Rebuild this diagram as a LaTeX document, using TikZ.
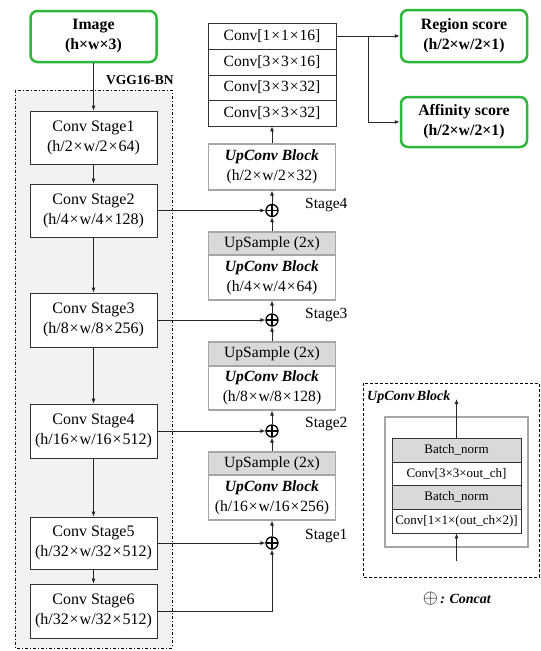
\documentclass[tikz,border=0pt]{standalone}
\usepackage{fontspec}
\usepackage{graphicx}
\setmainfont{Liberation Serif}
\usetikzlibrary{arrows.meta}
\newcommand{\fsz}[2]{\fontsize{#1}{#2}\selectfont}
\newcommand{\tx}{\hspace{0.06em}×\hspace{0.06em}}
\definecolor{grn}{HTML}{2DB83D}
\definecolor{bgg}{HTML}{F2F2F2}
\definecolor{hdr}{HTML}{D9D9D9}
\definecolor{bdr}{HTML}{A6A6A6}
\tikzset{
  gbox/.style={draw=grn, line width=2.5pt, rounded corners=7pt, fill=white, minimum width=126pt, align=center, inner sep=0pt, font=\bfseries\fsz{15.8}{20}},
  convbox/.style={draw=black!80, line width=0.8pt, fill=white, minimum width=127pt, align=center, inner sep=0pt, font=\fsz{16}{20}},
  stackrow/.style={draw=black!80, line width=0.8pt, fill=white, minimum width=128pt, inner sep=0pt, font=\fsz{15.6}{18}},
  upbody/.style={draw=bdr, line width=1.2pt, fill=white, minimum width=127pt, align=center, inner sep=0pt, font=\fsz{15.6}{20}},
  uphead/.style={draw=bdr, line width=1.2pt, fill=hdr, minimum width=127pt, inner sep=0pt, font=\fsz{15.6}{18}},
  opl/.style={circle, draw=black, line width=1.3pt, minimum size=12pt, inner sep=0pt, fill=white,
    path picture={\draw[line width=1.3pt] (path picture bounding box.north) -- (path picture bounding box.south)
      (path picture bounding box.west) -- (path picture bounding box.east);}},
  stlabel/.style={anchor=west, inner sep=0pt, font=\fsz{15.5}{18}},
  inrow/.style={draw=black!80, line width=0.8pt, fill=white, minimum width=129pt, inner sep=0pt, font=\fsz{13}{15}},
  arr/.style={->, line width=0.8pt, draw=black!85},
}
\begin{document}
\begin{tikzpicture}[x=1pt, y=-1pt, >={Latex[length=5pt,width=4pt]}]
\useasboundingbox (0,0) rectangle (541,651);
\fill[white] (0,0) rectangle (541,651);
% VGG background
\draw[fill=bgg, line width=0.8pt, dash pattern=on 3pt off 2pt on 1pt off 2pt] (15,90) rectangle (172,648);
\node[anchor=west, inner sep=0pt, font=\bfseries\fsz{13.5}{15}] (vgg) at (106,80) {VGG16-BN};

\node[gbox, minimum height=51pt] (img) at (93.5,36.5) {Image\\(h×w×3)};

\node[convbox, minimum height=53pt] (s1) at (93.5,137.5) {Conv Stage1\\(h/2\tx w/2\tx 64)};
\node[convbox, minimum height=53pt] (s2) at (93.5,210.5) {Conv Stage2\\(h/4\tx w/4\tx 128)};
\node[convbox, minimum height=54pt] (s3) at (93.5,320) {Conv Stage3\\(h/8\tx w/8\tx 256)};
\node[convbox, minimum height=54pt] (s4) at (93.5,431) {Conv Stage4\\(h/16\tx w/16\tx 512)};
\node[convbox, minimum height=52pt] (s5) at (93.5,543) {Conv Stage5\\(h/32\tx w/32\tx 512)};
\node[convbox, minimum height=54pt] (s6) at (93.5,611) {Conv Stage6\\(h/32\tx w/32\tx 512)};

% right column
\node[stackrow, minimum height=26pt] (c1) at (272,36) {Conv[1\tx 1\tx 16]};
\node[stackrow, minimum height=26pt] (c2) at (272,62) {Conv[3\tx 3\tx 16]};
\node[stackrow, minimum height=25pt] (c3) at (272,87.5) {Conv[3\tx 3\tx 32]};
\node[stackrow, minimum height=26pt] (c4) at (272,113) {Conv[3\tx 3\tx 32]};

\node[upbody, minimum height=46pt] (u0) at (272,167) {\textbf{\textit{UpConv Block}}\\(h/2\tx w/2\tx 32)};

\node[uphead, minimum height=23pt] (hA) at (272,243.5) {UpSample (2x)};
\node[upbody, minimum height=45pt] (bA) at (272,277.5) {\textbf{\textit{UpConv Block}}\\(h/4\tx w/4\tx 64)};
\node[uphead, minimum height=24pt] (hB) at (272,354) {UpSample (2x)};
\node[upbody, minimum height=44pt] (bB) at (272,388) {\textbf{\textit{UpConv Block}}\\(h/8\tx w/8\tx 128)};
\node[uphead, minimum height=23pt] (hC) at (272,463.5) {UpSample (2x)};
\node[upbody, minimum height=45pt] (bC) at (272,497.5) {\textbf{\textit{UpConv Block}}\\(h/16\tx w/16\tx 256)};

\node[opl] (o4) at (272,210.5) {};
\node[opl] (o3) at (272,320) {};
\node[opl] (o2) at (272,431) {};
\node[opl] (o1) at (272,543) {};

\node[stlabel] (l4) at (305,205) {Stage4};
\node[stlabel] (l3) at (305,315) {Stage3};
\node[stlabel] (l2) at (305,424) {Stage2};
\node[stlabel] (l1) at (305,536) {Stage1};

\node[gbox, minimum height=52pt] (reg) at (464,36) {Region score\\(h/2×w/2×1)};
\node[gbox, minimum height=50pt] (aff) at (464,122) {Affinity score\\(h/2×w/2×1)};

% arrows left column
\draw[arr] (img.south) -- (s1.north);
\draw[arr] (s1.south) -- (s2.north);
\draw[arr] (s2.south) -- (s3.north);
\draw[arr] (s3.south) -- (s4.north);
\draw[arr] (s4.south) -- (s5.north);
\draw[arr] (s5.south) -- (s6.north);
% skip connections
\draw[arr] (s2.east) -- (o4.west);
\draw[arr] (s3.east) -- (o3.west);
\draw[arr] (s4.east) -- (o2.west);
\draw[arr] (s5.east) -- (o1.west);
\draw[arr] (s6.east) -| (o1.south);
% decoder
\draw[arr] (o1.north) -- (bC.south);
\draw[arr] (hC.north) -- (o2.south);
\draw[arr] (o2.north) -- (bB.south);
\draw[arr] (hB.north) -- (o3.south);
\draw[arr] (o3.north) -- (bA.south);
\draw[arr] (hA.north) -- (o4.south);
\draw[arr] (o4.north) -- (u0.south);
\draw[arr] (u0.north) -- (c4.south);
% outputs
\coordinate (br) at (368,36);
\draw[arr] (c1.east) -- (reg.west);
\draw[arr] (br) |- (aff.west);

% inset
\draw[line width=0.8pt, dash pattern=on 3pt off 2pt] (363,383) rectangle (539,577);
\node[anchor=west, inner sep=0pt, font=\bfseries\itshape\fsz{14}{16}] (ilab) at (367,397) {UpConv\,Block};
\node[draw=bdr, line width=1.8pt, minimum width=143pt, minimum height=130pt, inner sep=0pt] (sq) at (456.5,482) {};
\node[inrow, fill=hdr, minimum height=24pt] (i1) at (456.5,450) {Batch\_norm};
\node[inrow, minimum height=23pt] (i2) at (456.5,473.5) {Conv[3×3×out\_ch]};
\node[inrow, fill=hdr, minimum height=24pt] (i3) at (456.5,497) {Batch\_norm};
\node[inrow, minimum height=24pt] (i4) at (456.5,521) {Conv[1×1×(out\_ch×2)]};
\coordinate (iout) at (456.5,399);
\coordinate (iin) at (456.5,561);
\draw[arr] (i1.north) -- (iout);
\draw[arr] (iin) -- (i4.south);

\node[inner sep=0pt, font=\fsz{14}{16}] (cc) at (457,599) {\scalebox{1.35}{$\oplus$}\,\textbf{\textit{: Concat}}};
\end{tikzpicture}
\end{document}
